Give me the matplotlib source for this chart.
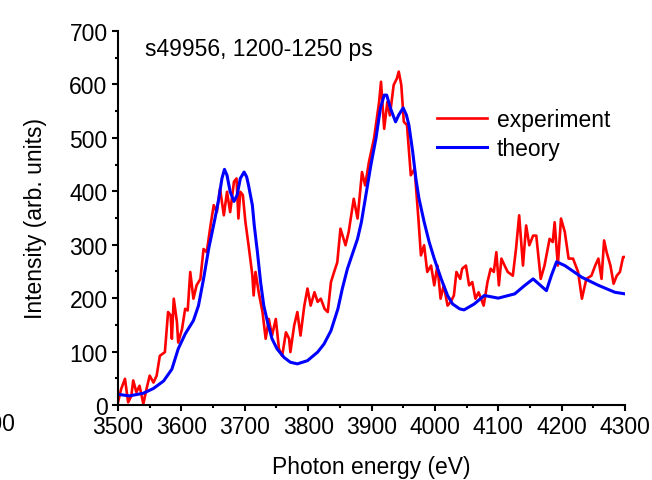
import matplotlib
matplotlib.use('Agg')
import matplotlib.pyplot as plt
from matplotlib.ticker import MultipleLocator

plt.rcParams['font.family'] = ['Liberation Sans', 'DejaVu Sans']

# measured spectrum, photon energy (eV) and intensity
exp_energy = [3500, 3505, 3511, 3516, 3521, 3524, 3529, 3534, 3540, 3545, 3550, 3556,
              3561, 3566, 3574, 3579, 3583, 3585, 3588, 3593, 3595, 3601, 3606, 3610,
              3614, 3619, 3624, 3630, 3635, 3640, 3646, 3651, 3656, 3661, 3667, 3672,
              3677, 3683, 3687, 3690, 3693, 3697, 3701, 3706, 3712, 3714, 3717, 3722,
              3728, 3733, 3738, 3743, 3749, 3754, 3759, 3765, 3770, 3772, 3778, 3783,
              3788, 3794, 3799, 3804, 3810, 3815, 3820, 3826, 3831, 3836, 3841, 3846,
              3851, 3859, 3864, 3872, 3878, 3885, 3890, 3896, 3904, 3912, 3915, 3920,
              3925, 3929, 3935, 3940, 3943, 3947, 3951, 3956, 3962, 3968, 3974, 3978,
              3983, 3988, 3994, 3999, 4004, 4009, 4014, 4020, 4025, 4030, 4034, 4040,
              4043, 4049, 4054, 4059, 4064, 4069, 4077, 4083, 4088, 4093, 4097, 4101,
              4105, 4110, 4115, 4123, 4128, 4133, 4139, 4144, 4149, 4155, 4160, 4167,
              4173, 4181, 4186, 4189, 4194, 4199, 4205, 4211, 4218, 4226, 4232, 4239,
              4247, 4253, 4258, 4263, 4267, 4271, 4277, 4282, 4287, 4292, 4297, 4300]
exp_intensity = [5, 30, 49, 5, 17, 46, 24, 36, 2, 30, 55, 42,
                 55, 92, 99, 174, 168, 124, 199, 155, 117, 142, 180, 177,
                 249, 199, 224, 236, 292, 286, 336, 374, 361, 405, 355, 399,
                 361, 418, 424, 349, 399, 393, 343, 299, 243, 205, 249, 211,
                 174, 124, 161, 130, 161, 105, 92, 136, 124, 99, 149, 174,
                 130, 186, 218, 186, 211, 193, 199, 180, 174, 230, 249, 267,
                 330, 299, 324, 386, 349, 436, 411, 455, 499, 567, 605, 517,
                 567, 542, 599, 611, 624, 599, 530, 524, 430, 442, 349, 280,
                 299, 249, 261, 224, 261, 199, 224, 186, 193, 205, 249, 236,
                 255, 261, 224, 230, 199, 211, 186, 230, 255, 249, 286, 224,
                 274, 261, 249, 242, 292, 355, 261, 336, 299, 317, 317, 236,
                 261, 311, 305, 342, 261, 349, 324, 274, 274, 249, 199, 236,
                 242, 261, 274, 236, 308, 286, 261, 227, 242, 249, 277, 277]

# calculated spectrum
th_energy = [3500, 3518, 3540, 3556, 3572, 3585, 3595, 3606, 3619, 3627, 3635, 3643,
             3653, 3659, 3664, 3668, 3672, 3677, 3683, 3688, 3693, 3699, 3703, 3706,
             3712, 3715, 3720, 3725, 3730, 3736, 3743, 3751, 3762, 3772, 3783, 3799,
             3815, 3825, 3836, 3847, 3854, 3862, 3870, 3878, 3884, 3892, 3899, 3907,
             3914, 3920, 3924, 3930, 3938, 3943, 3950, 3955, 3959, 3965, 3970, 3975,
             3983, 3991, 3999, 4010, 4020, 4028, 4039, 4046, 4062, 4078, 4100, 4126,
             4142, 4155, 4176, 4184, 4192, 4205, 4232, 4258, 4284, 4300]
th_intensity = [20, 17, 22, 31, 45, 67, 105, 133, 158, 186, 236, 292,
                349, 386, 424, 441, 430, 399, 381, 393, 424, 436, 427, 411,
                374, 336, 286, 230, 186, 155, 124, 105, 89, 80, 77, 83,
                99, 114, 139, 180, 218, 255, 283, 311, 342, 399, 449, 499,
                555, 580, 580, 555, 530, 543, 556, 543, 524, 474, 424, 386,
                343, 305, 274, 236, 205, 189, 180, 178, 189, 205, 200, 208,
                224, 236, 214, 243, 268, 261, 239, 224, 211, 208]

fig = plt.figure(figsize=(6.52, 4.81), dpi=100)
ax = fig.add_axes([118/652, 1 - 406/481, 507/652, 374/481])

ax.plot(exp_energy, exp_intensity, color='#ff0000', lw=1.9, label='experiment')
ax.plot(th_energy, th_intensity, color='#0000ff', lw=2.2, label='theory',
        solid_joinstyle='round')

ax.set_xlim(3500, 4300)
ax.set_ylim(0, 700)
ax.xaxis.set_major_locator(MultipleLocator(100))
ax.xaxis.set_minor_locator(MultipleLocator(50))
ax.yaxis.set_major_locator(MultipleLocator(100))
ax.yaxis.set_minor_locator(MultipleLocator(50))

for side in ['top', 'right']:
    ax.spines[side].set_visible(False)
for side in ['left', 'bottom']:
    ax.spines[side].set_linewidth(1.5)
ax.tick_params(which='major', direction='out', length=4.5, width=1.5, labelsize=16.5, pad=3)
ax.tick_params(which='minor', direction='out', length=2.5, width=1.5)

ax.set_xlabel('Photon energy (eV)', fontsize=16.5, labelpad=12)
ax.set_ylabel('Intensity (arb. units)', fontsize=16.5, labelpad=16)

ax.text(0.053, 0.952, 's49956, 1200-1250 ps', transform=ax.transAxes,
        fontsize=16.5, va='center', ha='left')

ax.legend(loc='center left', bbox_to_anchor=(437/652, 1 - 135/481),
          bbox_transform=fig.transFigure, frameon=False, fontsize=16.5,
          handlelength=2.2, handletextpad=0.4, labelspacing=0.3,
          borderpad=0, borderaxespad=0)

# leftover tick label cut off by the figure edge
fig.text(15/652, 1 - 425/481, '3400', fontsize=16.5, ha='right', va='center')

fig.savefig('out.png', dpi=100)
